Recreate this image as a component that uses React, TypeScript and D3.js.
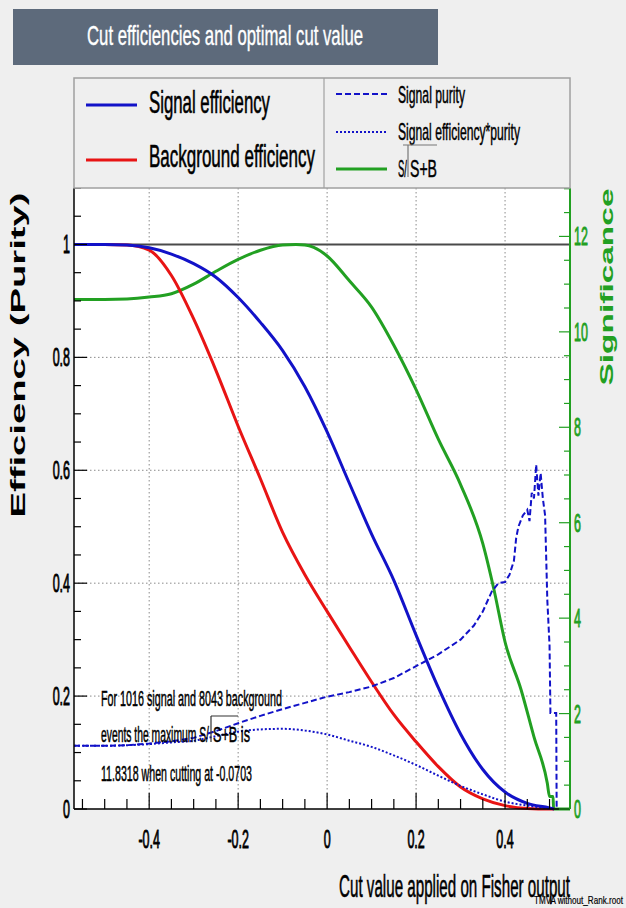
import React from 'react';
import * as d3 from 'd3';

// cut values (Fisher output) for the smooth efficiency curves
const cutGrid = [-0.569, -0.5, -0.45, -0.4, -0.35, -0.3, -0.25, -0.2, -0.15, -0.1, -0.05, 0, 0.05, 0.1, 0.15, 0.2, 0.25, 0.3, 0.35, 0.4, 0.45, 0.5, 0.51];
const signalEff = [1, 1, 0.999, 0.994, 0.983, 0.966, 0.942, 0.906, 0.862, 0.812, 0.748, 0.668, 0.577, 0.487, 0.405, 0.308, 0.215, 0.133, 0.07, 0.03, 0.01, 0.002, 0];
const backgroundEff = [1, 1, 0.999, 0.99, 0.945, 0.868, 0.777, 0.678, 0.585, 0.49, 0.415, 0.35, 0.287, 0.225, 0.167, 0.119, 0.075, 0.039, 0.018, 0.006, 0.001, 0, 0];
const effTimesPurity = [0.112, 0.112, 0.113, 0.115, 0.118, 0.121, 0.129, 0.137, 0.141, 0.142, 0.139, 0.132, 0.121, 0.11, 0.095, 0.078, 0.059, 0.041, 0.026, 0.013, 0.006, 0.001, 0];

// signal purity has its own (noisier) sampling near the end
const purityCut = [-0.569, -0.5, -0.45, -0.4, -0.35, -0.3, -0.25, -0.2, -0.15, -0.1, -0.05, 0, 0.05, 0.1, 0.15, 0.2, 0.25, 0.3, 0.33, 0.35, 0.37, 0.385, 0.4, 0.41, 0.42, 0.425, 0.43, 0.44, 0.45, 0.455, 0.46, 0.465, 0.47, 0.475, 0.48, 0.485, 0.49, 0.495, 0.5, 0.502, 0.515, 0.516];
const purity = [0.112, 0.112, 0.113, 0.116, 0.12, 0.126, 0.138, 0.152, 0.165, 0.177, 0.188, 0.199, 0.207, 0.217, 0.232, 0.253, 0.274, 0.3, 0.325, 0.35, 0.385, 0.4, 0.402, 0.415, 0.44, 0.48, 0.5, 0.52, 0.53, 0.51, 0.56, 0.55, 0.61, 0.555, 0.595, 0.55, 0.52, 0.37, 0.29, 0.17, 0.17, 0];

// S/sqrt(S+B) in significance units (right axis)
const significanceCut = [-0.569, -0.5, -0.45, -0.4, -0.35, -0.3, -0.25, -0.2, -0.15, -0.1, -0.07, -0.05, -0.03, 0, 0.05, 0.1, 0.15, 0.2, 0.25, 0.3, 0.35, 0.375, 0.4, 0.436, 0.465, 0.495, 0.5, 0.508, 0.509, 0.546];
const significance = [10.68, 10.68, 10.69, 10.73, 10.8, 11.0, 11.27, 11.52, 11.71, 11.82, 11.83, 11.82, 11.77, 11.59, 11.07, 10.52, 9.72, 8.79, 7.75, 6.8, 5.56, 4.6, 3.5, 2.5, 1.51, 0.54, 0.26, 0.26, 0, 0];

const maxSignificance = 11.8318;
const effTicks = [0, 0.2, 0.4, 0.6, 0.8, 1];
const cutTicks = [-0.4, -0.2, 0, 0.2, 0.4];
const sigTicks = [0, 2, 4, 6, 8, 10, 12];

const FONT = 'Liberation Sans, Arial, sans-serif';
const BLUE = '#1212c8';
const RED = '#e81414';
const GREEN = '#22a022';

const L = 74, R = 570, T = 188, B = 809;

function Squeezed({ x, y, size, children, anchor = 'start', fill = '#000', sx = 0.5 }: any) {
  return (
    <text transform={`translate(${x},${y}) scale(${sx},1)`} fontSize={size} textAnchor={anchor}
      fill={fill} stroke={fill} strokeWidth={0.9} fontFamily={FONT}>{children}</text>
  );
}

function Fitted({ x, y, size, len, children, anchor = 'start', fill = '#000', heavy = 0.6 }: any) {
  return (
    <text x={x} y={y} fontSize={size} textLength={len} lengthAdjust="spacingAndGlyphs" textAnchor={anchor}
      fill={fill} stroke={fill} strokeWidth={heavy} fontFamily={FONT}>{children}</text>
  );
}

export default function App() {
  const x = d3.scaleLinear().domain([-0.569, 0.546]).range([L, R]);
  const y = d3.scaleLinear().domain([0, 1.1]).range([B, T]);
  const ySig = d3.scaleLinear().domain([0, 1.1 * maxSignificance]).range([B, T]);

  const effLine = (xs: number[]) => d3.line<number>().x((_, i) => x(xs[i])).y(d => y(d)).curve(d3.curveMonotoneX);
  const purityLine = d3.line<number>().x((_, i) => x(purityCut[i])).y(d => y(d));
  const sigLine = d3.line<number>().x((_, i) => x(significanceCut[i])).y(d => ySig(d)).curve(d3.curveMonotoneX);

  const effMinor = d3.range(0, 1.1001, 0.05);
  const cutMinor = d3.range(-0.55, 0.5001, 0.05);
  const sigMinor = d3.range(0, 13.001, 0.5);

  return (
    <svg width={626} height={908} style={{ position: 'absolute', left: 0, top: 0 }}>
      <rect width={626} height={908} fill="#efefef" />
      {/* title */}
      <rect x={13} y={9} width={425} height={56} fill="#5d6a7b" />
      <Fitted x={225} y={45} size={28} len={276} anchor="middle" fill="#fff" heavy={0.4}>Cut efficiencies and optimal cut value</Fitted>

      {/* plot area */}
      <rect x={L} y={T} width={R - L} height={B - T} fill="#fff" />
      <g stroke="#8a8a8a" strokeWidth={1} strokeDasharray="1.5,2.5">
        {cutTicks.map(t => <line key={'gx' + t} x1={x(t)} x2={x(t)} y1={T} y2={B} />)}
        {effTicks.filter(t => t > 0 && t < 1).map(t => <line key={'gy' + t} x1={L} x2={R} y1={y(t)} y2={y(t)} />)}
      </g>
      <line x1={L} x2={R} y1={y(1)} y2={y(1)} stroke="#4a4a4a" strokeWidth={2} />

      <g fill="none">
        <path d={sigLine(significance) || ''} stroke={GREEN} strokeWidth={3} />
        <path d={effLine(cutGrid)(backgroundEff) || ''} stroke={RED} strokeWidth={3} />
        <path d={effLine(cutGrid)(signalEff) || ''} stroke={BLUE} strokeWidth={3} />
        <path d={purityLine(purity) || ''} stroke={BLUE} strokeWidth={2} strokeDasharray="6,3" />
        <path d={effLine(cutGrid)(effTimesPurity) || ''} stroke={BLUE} strokeWidth={2} strokeDasharray="2,2" />
      </g>

      {/* left axis */}
      <line x1={L} x2={L} y1={T} y2={B} stroke="#000" strokeWidth={1.5} />
      {effMinor.map(t => {
        const major = Math.abs(t * 5 - Math.round(t * 5)) < 1e-6;
        return <line key={'lt' + t} x1={L} x2={L + (major ? 13 : 7)} y1={y(t)} y2={y(t)} stroke="#000" strokeWidth={1.2} />;
      })}
      {effTicks.map(t => (
        <Squeezed key={'ll' + t} x={70} y={y(t) + 9} size={25} anchor="end">{String(t)}</Squeezed>
      ))}

      {/* bottom axis */}
      <line x1={L} x2={R} y1={B} y2={B} stroke="#000" strokeWidth={1.5} />
      {cutMinor.map(t => {
        const major = Math.abs(t * 5 - Math.round(t * 5)) < 1e-6;
        return <line key={'bt' + t} x1={x(t)} x2={x(t)} y1={B} y2={B - (major ? 16 : 10)} stroke="#000" strokeWidth={1.2} />;
      })}
      {cutTicks.map(t => (
        <Squeezed key={'bl' + t} x={x(t)} y={848} size={25} anchor="middle">{String(t)}</Squeezed>
      ))}

      {/* right significance axis */}
      <line x1={R} x2={R} y1={T} y2={B} stroke={GREEN} strokeWidth={2} />
      {sigMinor.map(t => (
        <line key={'rt' + t} x1={R} x2={R - (t % 2 === 0 ? 11 : 6)} y1={ySig(t)} y2={ySig(t)} stroke={GREEN} strokeWidth={1.2} />
      ))}
      {sigTicks.map(t => (
        <Squeezed key={'rl' + t} x={574} y={ySig(t) + 9} size={25} fill={GREEN}>{String(t)}</Squeezed>
      ))}

      {/* axis titles */}
      <text transform="translate(25,355) scale(0.55,1) rotate(-90)" fontSize={36} fontWeight="bold" fontFamily={FONT}
        textAnchor="middle" textLength={325} lengthAdjust="spacingAndGlyphs">Efficiency (Purity)</text>
      <text transform="translate(613,287) scale(0.55,1) rotate(-90)" fontSize={34} fontWeight="bold" fontFamily={FONT}
        textAnchor="middle" fill={GREEN} textLength={197} lengthAdjust="spacingAndGlyphs">Significance</text>
      <Fitted x={570} y={897} size={32} len={231} anchor="end">Cut value applied on Fisher output</Fitted>
      <Fitted x={534} y={904} size={11} len={89} heavy={0.2}>TMVA without_Rank.root</Fitted>

      {/* legend */}
      <rect x={L} y={78} width={R - L} height={110} fill="#efefef" stroke="#a0a0a0" strokeWidth={1.5} />
      <line x1={324} x2={324} y1={78} y2={188} stroke="#a0a0a0" strokeWidth={1.2} />
      <line x1={86} x2={137} y1={105} y2={105} stroke={BLUE} strokeWidth={3} />
      <line x1={86} x2={137} y1={160} y2={160} stroke={RED} strokeWidth={3} />
      <Fitted x={149} y={113} size={32} len={121}>Signal efficiency</Fitted>
      <Fitted x={149} y={167} size={32} len={166}>Background efficiency</Fitted>
      <line x1={336} x2={387} y1={94} y2={94} stroke={BLUE} strokeWidth={2} strokeDasharray="6,3" />
      <line x1={336} x2={387} y1={132} y2={132} stroke={BLUE} strokeWidth={2} strokeDasharray="2,2" />
      <line x1={336} x2={387} y1={169} y2={169} stroke={GREEN} strokeWidth={3} />
      <Fitted x={398} y={103} size={24} len={67} heavy={0.5}>Signal purity</Fitted>
      <Fitted x={398} y={140} size={24} len={122} heavy={0.5}>Signal efficiency*purity</Fitted>
      <Fitted x={398} y={177} size={24} len={9} heavy={0.5}>S/</Fitted>
      <Fitted x={410} y={177} size={24} len={27} heavy={0.5}>S+B</Fitted>
      <path d="M403,145 H437 M408,145 V177" stroke="#777" strokeWidth={1.2} fill="none" />

      {/* optimal cut annotation */}
      <Fitted x={101} y={706} size={22} len={181} heavy={0.5}>For 1016 signal and 8043 background</Fitted>
      <Fitted x={101} y={742} size={22} len={108} heavy={0.5}>events the maximum S/</Fitted>
      <Fitted x={213} y={742} size={22} len={37} heavy={0.5}>S+B is</Fitted>
      <path d="M211,716 H238 M211,716 V742" stroke="#333" strokeWidth={1.2} fill="none" />
      <Fitted x={101} y={781} size={22} len={151} heavy={0.5}>11.8318 when cutting at -0.0703</Fitted>
    </svg>
  );
}
